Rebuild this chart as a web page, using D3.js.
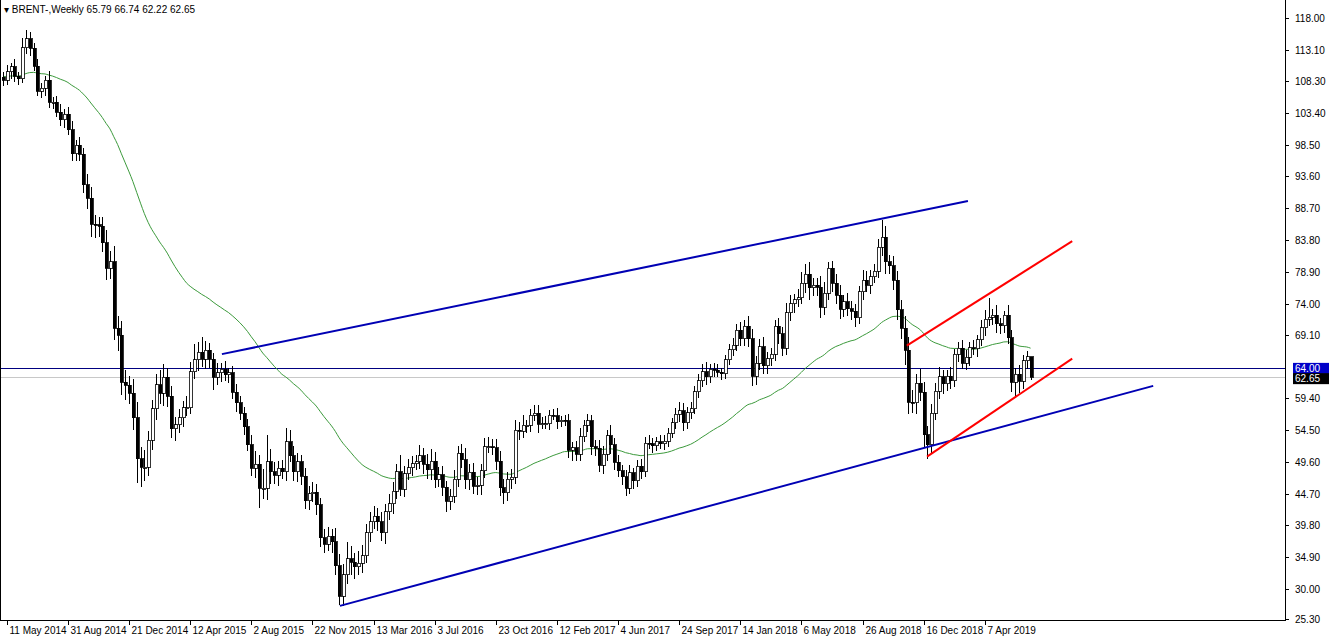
<!DOCTYPE html>
<html>
<head>
<meta charset="utf-8">
<script src="https://cdn.jsdelivr.net/npm/d3@7"></script>
<style>
  body { margin: 0; background: #fff; }
  svg { display: block; font-family: "Liberation Sans", Arial, sans-serif; }
</style>
</head>
<body>
<div id="chart"></div>
<script>
// weekly closes, first bar = week of 4 May 2014
var closes = [
108.4,109.7,110.5,109.0,108.6,113.4,114.8,113.3,110.6,106.7,107.2,108.4,105.0,105.0,103.5,102.3,103.2,100.8,97.1,98.4,
97.0,92.3,90.2,86.2,86.1,85.9,83.4,79.4,80.4,70.2,69.1,61.9,61.4,60.2,56.4,50.1,48.8,48.8,52.9,57.8,
61.5,60.2,62.6,59.7,54.7,55.3,56.4,57.9,57.9,63.5,65.3,66.5,65.4,66.8,65.4,62.6,63.3,63.9,63.0,63.3,
60.3,58.7,57.1,55.0,52.2,48.6,49.2,45.5,45.5,49.6,48.1,47.5,48.6,48.1,52.7,50.5,48.1,49.6,47.4,43.6,
44.7,44.9,43.0,37.9,36.9,38.1,37.3,33.6,28.9,32.2,34.7,34.1,33.4,34.0,35.1,38.7,40.4,41.2,40.4,38.7,
41.9,43.1,45.1,48.1,45.4,47.8,48.7,49.3,49.6,50.5,49.2,48.4,49.7,46.8,47.6,45.7,43.5,44.3,46.9,50.9,
49.9,46.8,48.0,45.8,46.0,48.2,51.9,51.9,51.8,49.7,45.6,44.8,46.9,47.2,54.5,54.3,55.2,55.2,56.8,57.1,
55.4,55.5,55.5,56.8,56.7,55.8,56.0,55.9,51.4,51.8,50.8,53.5,55.2,55.9,51.9,51.7,49.1,50.8,53.6,52.2,
49.5,48.2,47.3,45.5,47.9,46.7,48.9,48.1,52.5,52.4,52.1,52.7,52.4,52.8,54.0,55.6,56.9,57.5,55.6,57.2,
57.8,60.4,62.1,63.5,62.7,63.9,63.7,63.4,63.2,65.3,66.9,67.6,69.9,68.6,70.5,68.6,62.8,64.8,67.3,64.4,
65.5,66.2,70.5,69.3,67.1,72.6,74.0,74.6,74.9,77.1,78.5,76.4,76.8,76.5,73.4,75.6,79.4,77.1,75.3,73.1,
74.3,73.2,72.8,71.8,75.8,77.6,76.8,78.1,79.0,82.7,84.2,80.4,79.8,77.6,73.0,70.2,66.8,58.8,58.7,61.7,
60.3,53.8,52.2,57.1,60.5,62.7,61.6,62.8,62.1,66.2,67.1,64.8,65.7,67.2,67.0,68.4,70.3,71.6,71.9,72.2,
70.9,70.6,72.2,68.7,61.9,63.1,62.0,65.2,65.79,62.65
];
// wick extensions above / below the body
var wickUp = [
0.8,1.0,0.6,1.2,0.7,1.5,1.3,1.0,0.9,1.1,0.8,0.6,1.4,0.9,1.0,1.2,0.7,1.1,1.3,0.8,
1.2,1.0,1.6,1.8,1.4,1.2,1.5,2.0,1.7,2.5,1.8,2.2,1.9,1.4,2.1,2.4,1.8,2.6,1.5,1.3,
1.7,2.2,2.0,1.4,1.6,1.2,1.3,1.0,1.8,1.5,2.5,1.6,2.3,1.4,1.1,1.0,1.5,0.9,1.2,0.8,
1.1,1.3,1.0,0.9,1.2,1.6,2.1,1.4,3.0,4.1,1.9,1.5,1.2,1.3,2.1,1.8,1.5,1.4,1.0,1.2,
1.1,1.6,1.3,1.0,1.4,1.5,1.2,2.1,1.8,1.6,2.5,1.9,1.4,1.8,1.7,1.3,1.5,1.6,1.3,1.4,
1.2,1.5,1.4,1.2,2.5,1.1,1.3,1.2,1.1,1.7,1.3,1.6,1.9,1.4,1.2,1.3,1.0,1.1,1.4,1.2,
1.5,1.8,1.3,1.4,1.2,1.1,1.4,1.6,1.2,1.3,1.5,1.4,1.1,1.3,1.5,1.2,1.6,0.9,1.0,1.2,
1.3,1.0,1.1,0.8,0.9,1.2,0.7,0.8,1.0,0.9,1.0,1.3,0.8,1.1,0.9,1.0,1.3,1.2,0.9,1.7,
1.0,1.1,0.9,1.0,1.2,0.8,1.0,1.1,0.9,1.2,0.8,0.7,1.0,0.9,0.8,0.8,1.0,1.3,1.1,0.8,
1.0,0.9,1.0,1.2,1.5,0.8,0.9,1.0,0.7,0.8,0.9,1.1,1.0,1.3,0.9,1.5,1.4,1.1,1.2,1.6,
1.0,0.9,1.0,1.2,1.1,1.5,1.3,0.9,1.4,1.8,1.6,1.9,1.2,1.1,1.8,1.7,1.0,1.2,1.5,1.6,
1.0,1.3,1.2,1.1,0.9,1.5,1.4,1.0,1.1,1.2,2.6,1.8,1.1,1.5,1.4,1.6,1.8,2.0,1.9,1.5,
2.2,1.6,1.3,1.4,1.2,1.5,1.1,0.9,1.4,0.8,1.0,1.3,1.1,0.9,1.2,0.8,1.1,1.4,2.9,1.0,
1.6,0.9,0.7,1.5,1.2,1.0,1.4,0.8,0.95,0.0
];
var wickDn = [
0.9,0.7,1.1,0.8,1.0,0.6,0.9,1.2,0.8,0.7,1.0,1.2,0.9,1.1,0.8,1.0,1.3,0.9,1.1,1.2,
1.0,1.3,1.7,1.9,2.0,1.6,1.4,1.8,1.6,1.8,2.4,2.0,2.3,1.7,1.9,3.8,3.1,2.2,1.4,1.5,
1.8,1.7,2.0,1.6,1.5,1.9,1.2,1.4,1.3,1.0,1.1,1.7,1.2,1.5,1.3,2.0,1.1,1.4,1.0,1.2,
1.0,1.4,1.1,1.3,1.0,1.2,1.5,3.0,1.6,1.8,1.9,1.3,1.7,1.2,1.5,1.0,1.4,1.6,1.3,1.2,
1.4,1.3,1.6,1.5,1.4,1.0,1.7,1.5,1.3,1.5,1.4,2.0,1.8,1.2,1.6,1.1,1.4,1.2,1.5,1.3,
1.8,1.2,1.6,1.3,1.1,1.2,1.0,1.3,0.9,1.1,1.5,1.4,1.6,1.2,1.1,1.3,1.6,1.4,1.0,1.2,
1.3,1.4,1.6,1.2,1.3,1.5,1.1,1.0,1.2,1.4,1.3,1.7,1.2,1.5,1.0,1.3,1.1,1.2,1.0,0.9,
1.3,0.8,0.9,1.0,0.7,1.1,0.9,0.8,1.2,1.6,1.1,1.0,0.9,1.0,1.3,1.2,1.1,1.3,1.0,1.4,
1.1,1.0,1.2,1.1,0.9,1.3,1.0,1.2,0.8,0.9,1.1,0.8,0.9,1.0,0.9,0.8,0.9,1.1,1.2,0.9,
1.0,0.8,0.9,1.0,1.2,0.9,1.1,0.8,1.0,0.9,0.8,1.0,0.9,1.2,1.1,1.3,1.5,1.4,1.0,1.2,
1.3,1.1,1.0,1.6,1.2,1.0,1.3,1.4,1.1,1.0,1.5,1.8,1.2,1.3,1.7,1.1,1.0,1.4,1.3,1.5,
1.2,1.1,1.3,1.4,1.0,1.2,1.1,1.3,0.9,1.0,1.4,1.9,1.3,1.5,1.6,1.7,2.3,1.9,1.6,1.8,
1.4,2.0,2.1,1.3,1.0,1.2,1.5,1.1,1.3,1.0,1.2,0.9,1.1,1.3,1.0,1.2,1.0,1.3,1.1,1.2,
1.4,1.3,1.1,1.0,1.5,2.5,1.8,1.2,1.3,0.43
];
// header values of the last bar
var lastBar = { open: 65.79, high: 66.74, low: 62.22, close: 62.65 };

// price axis tick labels
var priceTicks = [118.00,113.10,108.30,103.40,98.50,93.60,88.70,83.80,78.90,74.00,69.10,59.40,54.50,49.60,44.70,39.80,34.90,30.00,25.30];

// date labels: bar index and text
var dateIdx = [1,17,33,49,65,81,97,113,129,145,161,177,193,209,225,241,257];
var dateLabels = ["11 May 2014","31 Aug 2014","21 Dec 2014","12 Apr 2015","2 Aug 2015","22 Nov 2015","13 Mar 2016","3 Jul 2016","23 Oct 2016","12 Feb 2017","4 Jun 2017","24 Sep 2017","14 Jan 2018","6 May 2018","26 Aug 2018","16 Dec 2018","7 Apr 2019"];

// trend lines: [bar index, price] pairs
var blueUpper = [[57.3, 66.2], [252.6, 89.8]];
var blueLower = [[88.2, 27.4], [301.1, 61.3]];
var redUpper = [[236.6, 67.5], [279.9, 83.6]];
var redLower = [[241.9, 50.4], [279.9, 65.5]];
var levelLine = 64.00;
var maStart = 109.0; // moving average value before the first visible bar

var W = 1332, H = 641, plotR = 1285, plotB = 620;

var bars = closes.map(function(c, i) {
  var o = i === 0 ? 108.9 : closes[i - 1];
  if (i === closes.length - 1) o = lastBar.open;
  return { i: i, o: o, c: c,
           h: Math.max(o, c) + wickUp[i],
           l: Math.min(o, c) - wickDn[i] };
});

var svg = d3.select("#chart").append("svg")
  .attr("width", W).attr("height", H);

var x = d3.scaleLinear().domain([0, 1]).range([3, 6.82]);
var y = d3.scaleLinear().domain([118, 30]).range([18, 589]);

// exponential moving average (50 weeks)
var k = 2 / 51, prev = maStart;
var ma = closes.map(function(c, i) {
  prev = prev + k * (c - prev);
  return { i: i, v: prev };
});

var plot = svg.append("g");
plot.append("clipPath").attr("id", "clip")
  .append("rect").attr("width", plotR).attr("height", plotB);
var g = plot.append("g").attr("clip-path", "url(#clip)");

// level lines
g.append("line").attr("x1", 0).attr("x2", plotR)
  .attr("y1", Math.round(y(lastBar.close)) + 0.5).attr("y2", Math.round(y(lastBar.close)) + 0.5)
  .attr("stroke", "#c8c8c8").attr("stroke-width", 1);
g.append("line").attr("x1", 0).attr("x2", plotR)
  .attr("y1", Math.round(y(levelLine)) + 0.5).attr("y2", Math.round(y(levelLine)) + 0.5)
  .attr("stroke", "#000080").attr("stroke-width", 1);

// MA
g.append("path").datum(ma)
  .attr("fill", "none").attr("stroke", "#3c9a3c").attr("stroke-width", 1)
  .attr("d", d3.line().curve(d3.curveMonotoneX)
    .x(function(d) { return x(d.i); }).y(function(d) { return y(d.v); }));

// candles
var cg = g.append("g").attr("shape-rendering", "crispEdges");
cg.selectAll("line.wick").data(bars).join("line")
  .attr("x1", function(d) { return Math.round(x(d.i)) + 0.5; })
  .attr("x2", function(d) { return Math.round(x(d.i)) + 0.5; })
  .attr("y1", function(d) { return y(d.h); })
  .attr("y2", function(d) { return y(d.l); })
  .attr("stroke", "#000");
cg.selectAll("rect").data(bars).join("rect")
  .attr("x", function(d) { return Math.round(x(d.i)) - 1; })
  .attr("width", 3)
  .attr("y", function(d) { return y(Math.max(d.o, d.c)); })
  .attr("height", function(d) { return Math.max(1, Math.abs(y(d.o) - y(d.c))); })
  .attr("fill", function(d) { return d.c >= d.o ? "#fff" : "#000"; })
  .attr("stroke", "#000").attr("stroke-width", 0.8);

// trend lines
var tl = d3.line().x(function(d) { return x(d[0]); }).y(function(d) { return y(d[1]); });
[[blueUpper, "#0000b4"], [blueLower, "#0000b4"], [redUpper, "#ff0000"], [redLower, "#ff0000"]].forEach(function(p) {
  g.append("path").datum(p[0]).attr("d", tl)
    .attr("stroke", p[1]).attr("stroke-width", 2).attr("fill", "none");
});

// frame
svg.append("line").attr("x1", plotR + 0.5).attr("x2", plotR + 0.5).attr("y1", 0).attr("y2", plotB)
  .attr("stroke", "#000");
svg.append("line").attr("x1", 0).attr("x2", plotR + 1).attr("y1", plotB + 0.5).attr("y2", plotB + 0.5)
  .attr("stroke", "#000");
svg.append("line").attr("x1", 0.5).attr("x2", 0.5).attr("y1", 0).attr("y2", plotB)
  .attr("stroke", "#000");

// price axis
var pa = svg.append("g");
priceTicks.forEach(function(t) {
  var yy = Math.round(y(t)) + 0.5;
  pa.append("line").attr("x1", plotR).attr("x2", plotR + 4).attr("y1", yy).attr("y2", yy).attr("stroke", "#000");
  pa.append("text").attr("x", plotR + 10).attr("y", yy + 3.5)
    .attr("font-size", "10px").attr("fill", "#000").text(t.toFixed(2));
});
[[levelLine, "#0000c8", "#fff", 0], [lastBar.close, "#000", "#fff", 1.5]].forEach(function(p) {
  var yy = y(p[0]) + p[3];
  pa.append("rect").attr("x", plotR + 8).attr("y", yy - 5.5).attr("width", 36).attr("height", 11).attr("fill", p[1]);
  pa.append("text").attr("x", plotR + 10).attr("y", yy + 3.5)
    .attr("font-size", "10px").attr("fill", p[2]).text(p[0].toFixed(2));
});

// date axis
dateIdx.forEach(function(d, j) {
  var xx = Math.round(x(d)) + 0.5;
  svg.append("line").attr("x1", xx).attr("x2", xx).attr("y1", plotB).attr("y2", plotB + 5).attr("stroke", "#000");
  svg.append("text").attr("x", xx + 2).attr("y", plotB + 14)
    .attr("font-size", "10px").attr("fill", "#000").text(dateLabels[j]);
});

// header
svg.append("text").attr("x", 4).attr("y", 13).attr("font-size", "10px").attr("fill", "#000")
  .text("\u25BE BRENT-,Weekly  " + [lastBar.open, lastBar.high, lastBar.low, lastBar.close].map(function(v) { return v.toFixed(2); }).join(" "));
</script>
</body>
</html>
